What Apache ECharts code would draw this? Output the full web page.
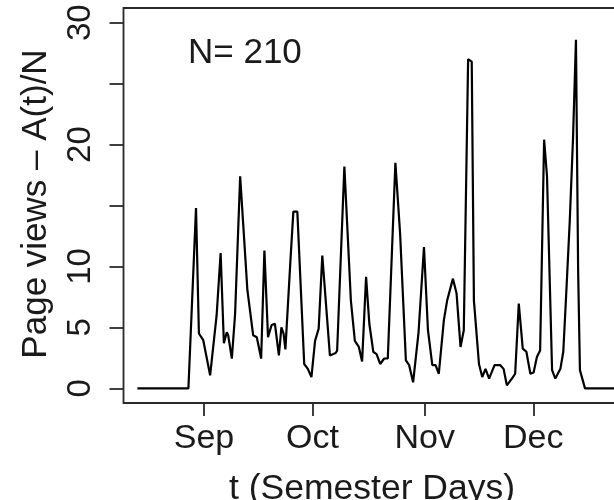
<!DOCTYPE html>
<html>
<head>
<meta charset="utf-8">
<script src="https://cdn.jsdelivr.net/npm/echarts@6/dist/echarts.min.js"></script>
<style>
  html, body { margin: 0; padding: 0; background: #fff; overflow: hidden; width: 614px; height: 500px; }
  #main { width: 640px; height: 500px; }
</style>
</head>
<body>
<div id="main"></div>
<script>
// semester days, counted from Sep 1
var days = [-18.4, -4.3, -2.2, -1.4, -0.2, 1.7, 3.5, 4.6, 5.5, 6.3, 6.7, 7.7, 8.6, 10.0, 12.0, 13.6, 14.6, 15.8, 16.7, 17.7,
  18.7, 19.6, 20.7, 21.4, 22.0, 22.5, 23.8, 24.7, 25.8, 27.7, 28.7, 29.7, 30.7, 31.7, 32.7, 34.8, 36.4, 36.8, 38.8, 40.6,
  41.7, 42.8, 43.7, 44.8, 45.7, 46.8, 47.7, 48.7, 49.8, 50.8, 52.9, 54.2, 55.8, 56.7, 57.8, 59.3, 60.8, 61.9, 63.1, 64.0,
  64.9, 66.3, 67.2, 68.8, 69.8, 70.9, 71.8, 73.0, 74.0, 74.6, 76.0, 76.9, 77.8, 78.8, 80.3, 81.9, 82.8, 83.7, 85.1, 86.0,
  87.0, 88.1, 89.1, 90.2, 91.1, 92.0, 92.9, 94.0, 94.8, 96.2, 97.1, 98.5, 99.3, 100.2, 101.1, 102.0, 102.8, 103.4, 103.9, 105.3,
  125];
// page views A(t)/N
var views = [0, 0, 14.8, 4.5, 3.95, 1.07, 6.0, 11.1, 3.7, 4.6, 4.35, 2.44, 6.1, 17.4, 8.05, 4.35, 4.2, 2.44, 11.3, 4.2,
  5.2, 5.3, 2.7, 5.0, 4.5, 3.2, 10, 14.5, 14.5, 2.0, 1.6, 0.93, 3.9, 4.9, 10.9, 2.7, 2.9, 3.1, 18.2, 7.2,
  3.9, 3.4, 2.2, 9.15, 5.3, 3.0, 2.8, 2.0, 2.45, 2.45, 18.5, 12.7, 2.3, 1.9, 0.5, 4.6, 11.6, 4.77, 1.9, 1.9,
  1.2, 5.6, 7.2, 9.0, 7.8, 3.4, 4.77, 27.0, 26.8, 7.2, 2.0, 0.93, 1.6, 0.8, 1.9, 1.9, 1.6, 0.25, 0.8, 1.2,
  6.96, 3.26, 3.0, 1.2, 1.3, 2.57, 3.1, 20.4, 17.4, 1.5, 0.8, 1.6, 3.0, 8.3, 13.8, 20.6, 28.6, 9.7, 1.5, 0,
  0];

var monthDays = [0, 30, 61, 91];
var monthNames = ['Sep', 'Oct', 'Nov', 'Dec'];
var yTicks = [0, 5, 10, 15, 20, 25, 30];
var yLabels = [0, 5, 10, 20, 30];

var FONT = "'Liberation Sans', Arial, Helvetica, sans-serif";
var INK = '#1a1a1a';

var chart = echarts.init(document.getElementById('main'));

var pts = [];
for (var i = 0; i < days.length; i++) {
  pts.push([days[i], views[i]]);
}

chart.setOption({
  animation: false,
  backgroundColor: '#fff',
  grid: {
    left: 123.5,
    top: 8,
    bottom: 97,
    right: 0,
    show: true,
    borderColor: '#2a2a2a',
    borderWidth: 1.8,
    backgroundColor: 'transparent'
  },
  xAxis: {
    type: 'value',
    min: -22.24,
    max: 120.5,
    axisLine: { show: false, onZero: false },
    splitLine: { show: false },
    axisTick: {
      show: true,
      inside: false,
      length: 13,
      customValues: monthDays,
      lineStyle: { color: '#2a2a2a', width: 1.8 }
    },
    axisLabel: {
      show: true,
      customValues: monthDays,
      margin: 19,
      fontFamily: FONT,
      fontSize: 34,
      color: INK,
      formatter: function (v) {
        var k = monthDays.indexOf(v);
        return k >= 0 ? monthNames[k] : '';
      }
    }
  },
  yAxis: {
    type: 'value',
    min: -1.2,
    max: 31.2,
    axisLine: { show: false, onZero: false },
    splitLine: { show: false },
    axisTick: {
      show: true,
      inside: false,
      length: 14,
      customValues: yTicks,
      lineStyle: { color: '#2a2a2a', width: 1.8 }
    },
    axisLabel: {
      show: true,
      customValues: yLabels,
      rotate: 90,
      margin: 26,
      fontFamily: FONT,
      fontSize: 33,
      color: INK
    }
  },
  series: [{
    type: 'line',
    data: pts,
    showSymbol: false,
    smooth: false,
    lineStyle: { color: '#000', width: 2.2 },
    clip: true
  }],
  graphic: [
    {
      type: 'text',
      x: 188,
      y: 53,
      style: {
        text: 'N= 210',
        font: '35px ' + FONT,
        fill: INK,
        align: 'left',
        verticalAlign: 'middle'
      }
    },
    {
      type: 'text',
      x: 372,
      y: 489,
      style: {
        text: 't (Semester Days)',
        font: '35.5px ' + FONT,
        fill: INK,
        align: 'center',
        verticalAlign: 'middle'
      }
    },
    {
      type: 'text',
      x: 36,
      y: 204,
      rotation: Math.PI / 2,
      style: {
        text: 'Page views \u2013 A(t)/N',
        font: '35px ' + FONT,
        fill: INK,
        align: 'center',
        verticalAlign: 'middle'
      }
    }
  ]
});
</script>
</body>
</html>
